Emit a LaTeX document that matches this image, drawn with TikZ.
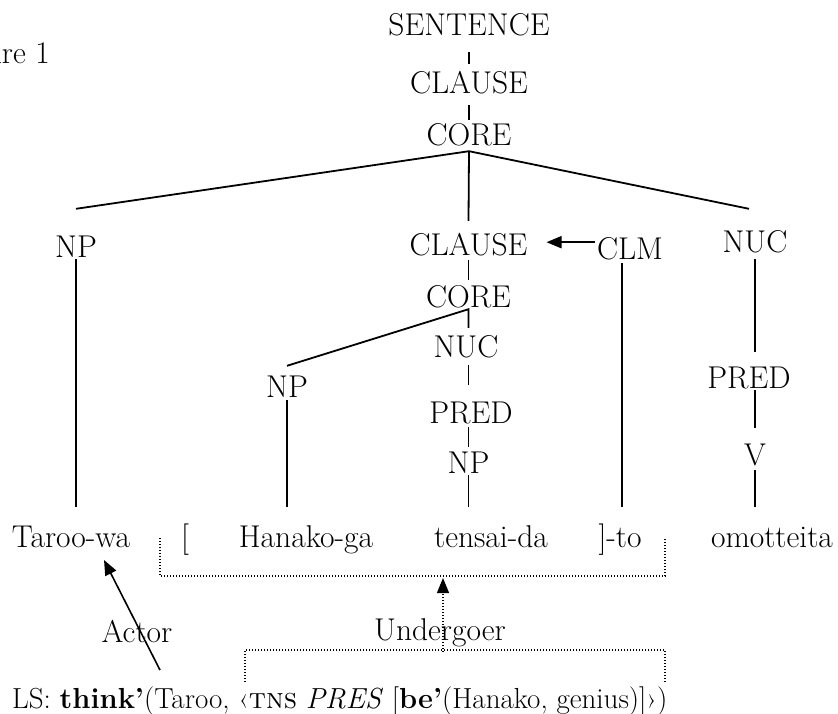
\documentclass[tikz,border=0pt]{standalone}
\usepackage{fontspec}
\usetikzlibrary{arrows.meta,calc}
\begin{document}
\begin{tikzpicture}[x=1pt,y=-1pt,
  every node/.style={font=\fontsize{31.5}{36}\selectfont, inner sep=0pt, anchor=base},
  lbl/.style={text height=20pt, text depth=0pt},
  edge/.style={line width=1.8pt},
  dots/.style={line width=1.2pt, dash pattern=on 1.2pt off 1.8pt},
  tip/.style={-{Triangle[length=15pt,width=12pt]}}
]
\useasboundingbox (0,0) rectangle (838,713);
% title (cut at the left edge, as in the reference)
\node[anchor=base east] (fig) at (50,63) {Figure 1};
% tree labels
\node[lbl] (s)    at (469,35)  {SENTENCE};
\node[lbl] (cl1)  at (469,93)  {CLAUSE};
\node[lbl] (co1)  at (469,145) {CORE};
\node[lbl] (np1)  at (76,257)  {NP};
\node[lbl] (cl2)  at (468.5,255) {CLAUSE};
\node[lbl] (clm)  at (630,259) {CLM};
\node[lbl] (nuc1) at (755,252) {NUC};
\node[lbl] (co2)  at (468.5,307) {CORE};
\node[lbl] (nuc2) at (466,357) {NUC};
\node[lbl] (np2)  at (287,397) {NP};
\node[lbl] (pred2) at (471,423) {PRED};
\node[lbl] (np3)  at (468.5,473) {NP};
\node[lbl] (pred1) at (749,388) {PRED};
\node[lbl] (v)    at (755,465) {V};
% words
\node[lbl] (w1) at (71,547)  {Taroo-wa};
\node[lbl] (wb) at (185,547) {[};
\node[lbl] (w3) at (306,547) {Hanako-ga};
\node[lbl] (w4) at (491,547) {tensai-da};
\node[lbl] (w5) at (620,547) {]-to};
\node[lbl] (w6) at (772,547) {omotteita};
% role labels
\node (actor) at (137,642) {Actor};
\node (und)   at (440,640) {Undergoer};
\node[anchor=base west, font=\fontsize{29}{34}\selectfont] (ls) at (12,708) {LS: \textbf{think’}(Taroo, ‹\textsc{tns} \textit{PRES} [\textbf{be’}(Hanako, genius)]›)};
% tree edges
\draw[edge] ($(s.south)+(0,17)$) -- ($(cl1.north)+(0,-9)$);
\draw[edge] ($(cl1.south)+(0,12)$) -- ($(co1.north)+(0,-5)$);
\draw[edge] ($(np1.north)+(0,-28)$) -- ($(co1.south)+(0,6)$) -- ($(nuc1.north)+(-6,-23)$);
\draw[edge] ($(co1.south)+(0,6)$) -- ($(cl2.north)+(0,-14)$);
\draw[edge] ($(np1.south)+(0,2)$) -- ($(np1.south |- w1.north)+(0,-20)$);
\draw[edge] ($(cl2.south)+(0,5)$) -- ($(co2.north)+(0,-7)$);
\draw[edge] ($(np2.north)+(0,-11)$) -- ($(co2.south)+(0,2)$) -- ($(co2.south |- nuc2.north)+(0,-9)$);
\draw[edge] ($(co2.south |- nuc2.south)+(0,8)$) -- ($(co2.south |- pred2.north)+(0,-18)$);
\draw[edge] ($(co2.south |- pred2.south)+(0,4)$) -- ($(np3.north)+(0,-6)$);
\draw[edge] ($(np3.south)+(0,2)$) -- ($(np3.south |- w4.north)+(0,-20)$);
\draw[edge] ($(np2.south)+(0,3)$) -- ($(np2.south |- w3.north)+(0,-20)$);
\draw[edge] ($(clm.south)+(-8,4)$) -- ($(clm.south |- w5.north)+(-8,-20)$);
\draw[edge] ($(nuc1.south)+(0,7)$) -- ($(nuc1.south |- pred1.north)+(0,-16)$);
\draw[edge] ($(nuc1.south |- pred1.south)+(0,2)$) -- ($(v.north)+(0,-17)$);
\draw[edge] ($(v.south)+(0,5)$) -- ($(v.south |- w6.north)+(0,-20)$);
% CLM -> CLAUSE arrow
\coordinate (clmfrom) at ($(clm.south)+(-35,-17)$);
\coordinate (clmto) at ($(cl2.south)+(78,-13)$);
\draw[edge, tip] (clmfrom) -- (clmto);
% dotted brackets
\coordinate (ua) at (160,538);
\coordinate (ub) at (160,576);
\coordinate (uc) at (665,576);
\coordinate (ud) at (665,538);
\draw[dots] (ua) -- (ub) -- (uc) -- (ud);
\coordinate (la) at (245,682);
\coordinate (lb) at (245,650);
\coordinate (lc) at (665,650);
\coordinate (ld) at (665,682);
\draw[dots] (la) -- (lb) -- (lc) -- (ld);
\coordinate (ufrom) at (443,652);
\coordinate (uto) at (443,578);
\draw[dots, tip] (ufrom) -- (uto);
% Actor arrow
\coordinate (afrom) at (160,670);
\coordinate (ato) at (104,560);
\draw[line width=1.6pt, tip] (afrom) -- (ato);
\end{tikzpicture}
\end{document}
